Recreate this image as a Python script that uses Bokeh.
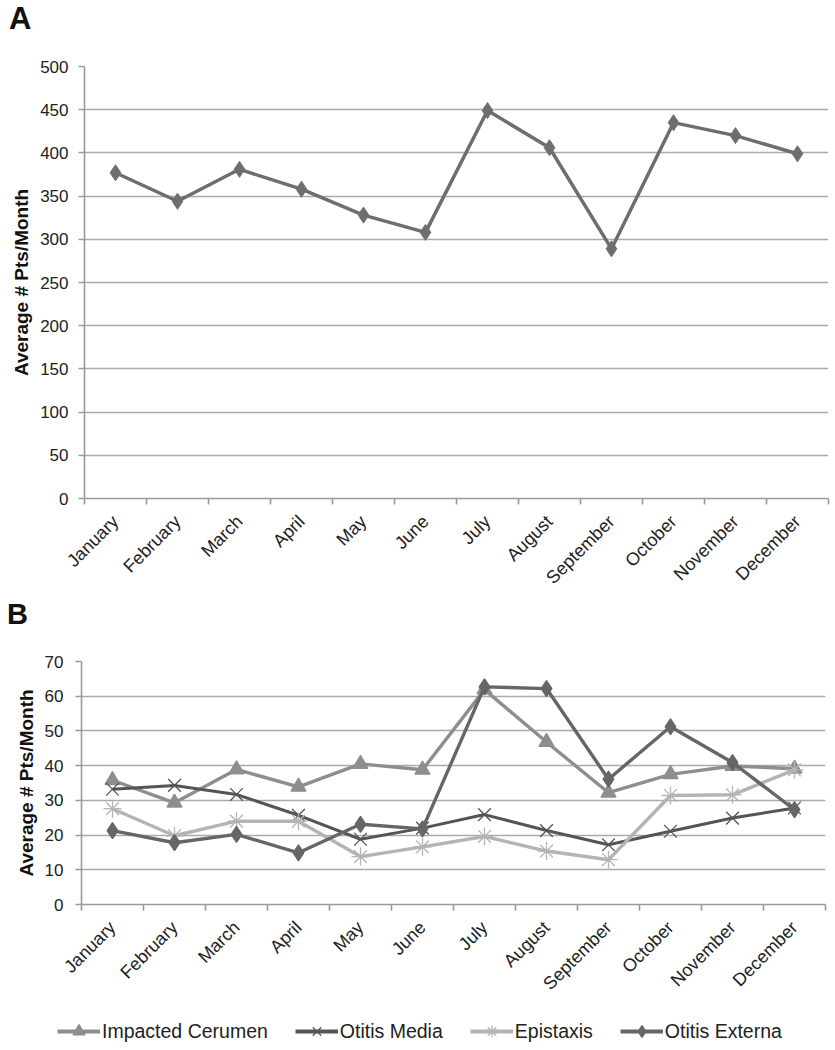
import math
from bokeh.plotting import figure
from bokeh.models import Range1d, FixedTicker, Legend, LegendItem, Div
from bokeh.layouts import column
from bokeh.embed import file_html
from bokeh.resources import INLINE

# ---------------- data ----------------
months = ["January", "February", "March", "April", "May", "June", "July",
          "August", "September", "October", "November", "December"]

panel_a_values = [377, 344, 381, 358, 328, 308, 449, 406, 289, 435, 420, 399]
panel_a_yticks = [0, 50, 100, 150, 200, 250, 300, 350, 400, 450, 500]

impacted_cerumen = [35.8, 29.3, 38.9, 33.9, 40.5, 38.8, 61.9, 46.8, 32.2, 37.5, 39.9, 39.1]
otitis_media = [33.2, 34.3, 31.7, 25.7, 18.8, 22.0, 25.9, 21.3, 17.2, 21.1, 24.9, 27.8]
epistaxis = [27.6, 19.8, 24.0, 24.0, 13.8, 16.6, 19.6, 15.4, 12.9, 31.4, 31.6, 38.8]
otitis_externa = [21.3, 17.8, 20.2, 14.9, 23.1, 21.8, 62.7, 62.2, 36.1, 51.2, 40.9, 27.3]
panel_b_yticks = [0, 10, 20, 30, 40, 50, 60, 70]

series_names = ["Impacted Cerumen", "Otitis Media", "Epistaxis", "Otitis Externa"]
y_label = "Average # Pts/Month"

FONT = "Liberation Sans"
GRID = "#aaaaaa"
AXIS = "#9a9a9a"
TICK_TEXT = "#222222"

centers = [i + 0.5 for i in range(len(months))]
bounds = list(range(len(months) + 1))


def style(p, yticks, tick_standoff):
    p.outline_line_color = None
    p.background_fill_color = "white"
    p.border_fill_color = "white"
    p.xgrid.visible = False
    p.ygrid.grid_line_color = GRID
    p.ygrid.grid_line_width = 1.6
    p.ygrid.ticker = FixedTicker(ticks=yticks)

    ya = p.yaxis[0]
    ya.ticker = FixedTicker(ticks=yticks)
    ya.axis_line_color = AXIS
    ya.axis_line_width = 1.6
    ya.major_tick_line_color = AXIS
    ya.major_tick_line_width = 1.6
    ya.major_tick_out = 6
    ya.major_tick_in = 0
    ya.minor_tick_line_color = None
    ya.major_label_text_font = FONT
    ya.major_label_text_font_size = "17px"
    ya.major_label_text_color = TICK_TEXT
    ya.major_label_standoff = tick_standoff
    ya.axis_label = y_label
    ya.axis_label_text_font = FONT
    ya.axis_label_text_font_style = "bold"
    ya.axis_label_text_font_size = "19px"
    ya.axis_label_text_color = "#111111"
    ya.axis_label_standoff = 5

    xa = p.xaxis[0]
    xa.ticker = FixedTicker(ticks=centers, minor_ticks=bounds)
    xa.major_label_overrides = {c: m for c, m in zip(centers, months)}
    xa.major_label_orientation = math.pi / 4
    xa.axis_line_color = AXIS
    xa.axis_line_width = 1.6
    xa.major_tick_line_color = None
    xa.major_tick_out = 0
    xa.major_tick_in = 0
    xa.minor_tick_line_color = AXIS
    xa.minor_tick_line_width = 1.6
    xa.minor_tick_out = 6
    xa.minor_tick_in = 0
    xa.major_label_text_font = FONT
    xa.major_label_text_font_size = "18px"
    xa.major_label_text_color = TICK_TEXT
    xa.major_label_standoff = 14


def label_div(txt, h, size, pad):
    return Div(text=txt, width=830, height=h, margin=(0, 0, 0, 0),
               styles={"font-size": size, "font-weight": "bold",
                       "font-family": "Liberation Sans, Arial, sans-serif",
                       "line-height": f"{h}px", "padding-left": pad,
                       "color": "#111111"})


# ---------------- panel A ----------------
div_a = label_div("A", 38, "31px", "9px")
pa = figure(width=830, height=560, output_backend="svg", toolbar_location=None,
            x_range=Range1d(0, len(months)), y_range=Range1d(0, 500),
            min_border_left=84, min_border_right=2, min_border_top=28,
            min_border_bottom=100, margin=(0, 0, 0, 0))
style(pa, panel_a_yticks, 10)
pa.line(centers, panel_a_values, line_color="#6e6e6e", line_width=3.5)
pa.scatter(centers, panel_a_values, marker="diamond", size=16,
           fill_color="#6e6e6e", line_color="#6e6e6e")

# ---------------- panel B ----------------
div_b = label_div("B", 32, "29px", "7px")
pb = figure(width=830, height=380, output_backend="svg", toolbar_location=None,
            x_range=Range1d(0, len(months)), y_range=Range1d(0, 70),
            min_border_left=81, min_border_right=5, min_border_top=31,
            min_border_bottom=106, margin=(0, 0, 0, 0))
style(pb, panel_b_yticks, 12)

# legend strip: its own small figure, series drawn again outside its view
pc = figure(width=830, height=38, output_backend="svg", toolbar_location=None,
            x_range=Range1d(0, len(months)), y_range=Range1d(1000, 1001),
            x_axis_location=None, y_axis_location=None,
            min_border_left=0, min_border_right=0, min_border_top=0,
            min_border_bottom=0, margin=(0, 0, 0, 0))
pc.grid.visible = False
pc.outline_line_color = None

specs = [
    (impacted_cerumen, "#8e8e8e", "triangle", 15, 3.4),
    (otitis_media, "#555555", "x", 18, 3.0),
    (epistaxis, "#b4b4b4", "asterisk", 18, 3.4),
    (otitis_externa, "#666666", "diamond", 16, 3.4),
]
items = []
for name, (vals, col, mk, sz, lw) in zip(series_names, specs):
    pb.line(centers, vals, line_color=col, line_width=lw)
    pb.scatter(centers, vals, marker=mk, size=sz, fill_color=col,
               line_color=col, line_width=1.3)
    lr = pc.line(centers, vals, line_color=col, line_width=4)
    sr = pc.scatter(centers, vals, marker=mk, size=sz - 2, fill_color=col,
                    line_color=col, line_width=1.3)
    items.append(LegendItem(label=name, renderers=[lr, sr]))

legend = Legend(items=items, orientation="horizontal", location=(57, 2),
                border_line_color=None, background_fill_alpha=0,
                label_text_font=FONT, label_text_font_size="19.5px",
                label_text_color="#222222", glyph_width=43, glyph_height=30,
                label_height=20, spacing=27, label_standoff=2, padding=0,
                margin=0)
pc.add_layout(legend, "center")

layout = column(column(div_a, pa, spacing=0, margin=(0, 0, 0, 0)),
                column(div_b, pb, spacing=0, margin=(0, 0, 0, 0)),
                column(pc, spacing=0, margin=(0, 0, 0, 0)),
                spacing=0, margin=(0, 0, 0, 0))

with open("out.html", "w") as f:
    f.write(file_html(layout, INLINE))
